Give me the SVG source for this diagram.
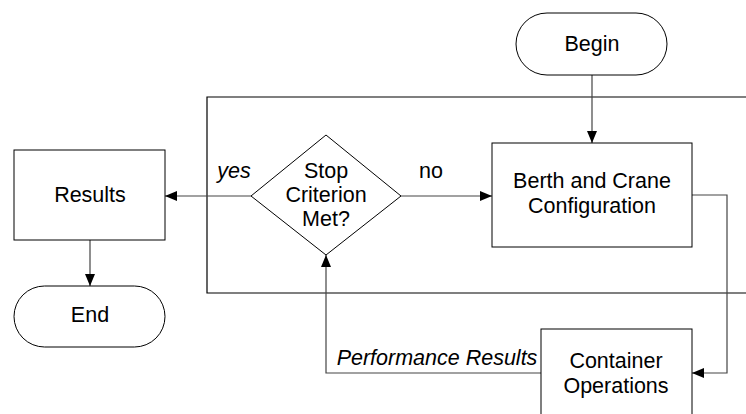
<svg xmlns="http://www.w3.org/2000/svg" width="746" height="414" viewBox="0 0 746 414">
<style>
.s{fill:#fff;stroke:#000;stroke-width:1}
.c{fill:none;stroke:#444;stroke-width:1.2}
.t{font-family:"Liberation Sans",Arial,sans-serif;font-size:21.5px;fill:#000;text-anchor:middle}
.i{font-style:italic}
</style>
<defs>
<marker id="a" markerWidth="12" markerHeight="10" refX="12" refY="5" orient="auto" markerUnits="userSpaceOnUse">
<path d="M0,0 L12,5 L0,10 Z" fill="#000"/>
</marker>
</defs>
<rect x="0" y="0" width="746" height="414" fill="#fff"/>
<g id="frame"><path d="M746,97 H207 V293 H746" fill="none" stroke="#000" stroke-width="1.2"/></g>
<g id="connectors">
<path class="c" d="M592,75 V143" marker-end="url(#a)"/>
<path class="c" d="M401,196 H492" marker-end="url(#a)"/>
<path class="c" d="M251,196 H165" marker-end="url(#a)"/>
<path class="c" d="M90,240 V286" marker-end="url(#a)"/>
<path class="c" d="M692,195 H727 V373 H692" marker-end="url(#a)"/>
<path class="c" d="M541,373 H326 V255" marker-end="url(#a)"/>
<text class="t i" x="234" y="178">yes</text>
<text class="t" x="431" y="178">no</text>
<text class="t i" x="437" y="365">Performance Results</text>
</g>
<g id="begin"><rect class="s" x="516" y="13" width="151" height="62" rx="31"/><text class="t" x="592" y="51">Begin</text></g>
<g id="decision"><path class="s" d="M326,135 L401,196 L326,255 L251,196 Z"/><text class="t" x="326" y="178">Stop</text><text class="t" x="326" y="202">Criterion</text><text class="t" x="326" y="226">Met?</text></g>
<g id="berth"><rect class="s" x="492" y="143" width="200" height="104"/><text class="t" x="592" y="188">Berth and Crane</text><text class="t" x="592" y="213">Configuration</text></g>
<g id="container"><rect class="s" x="541" y="329" width="151" height="100"/><text class="t" x="616" y="368">Container</text><text class="t" x="616" y="393">Operations</text></g>
<g id="results"><rect class="s" x="14" y="150" width="151" height="90"/><text class="t" x="90" y="202">Results</text></g>
<g id="end"><rect class="s" x="14" y="286" width="151" height="61" rx="30.5"/><text class="t" x="90" y="322">End</text></g>
</svg>
